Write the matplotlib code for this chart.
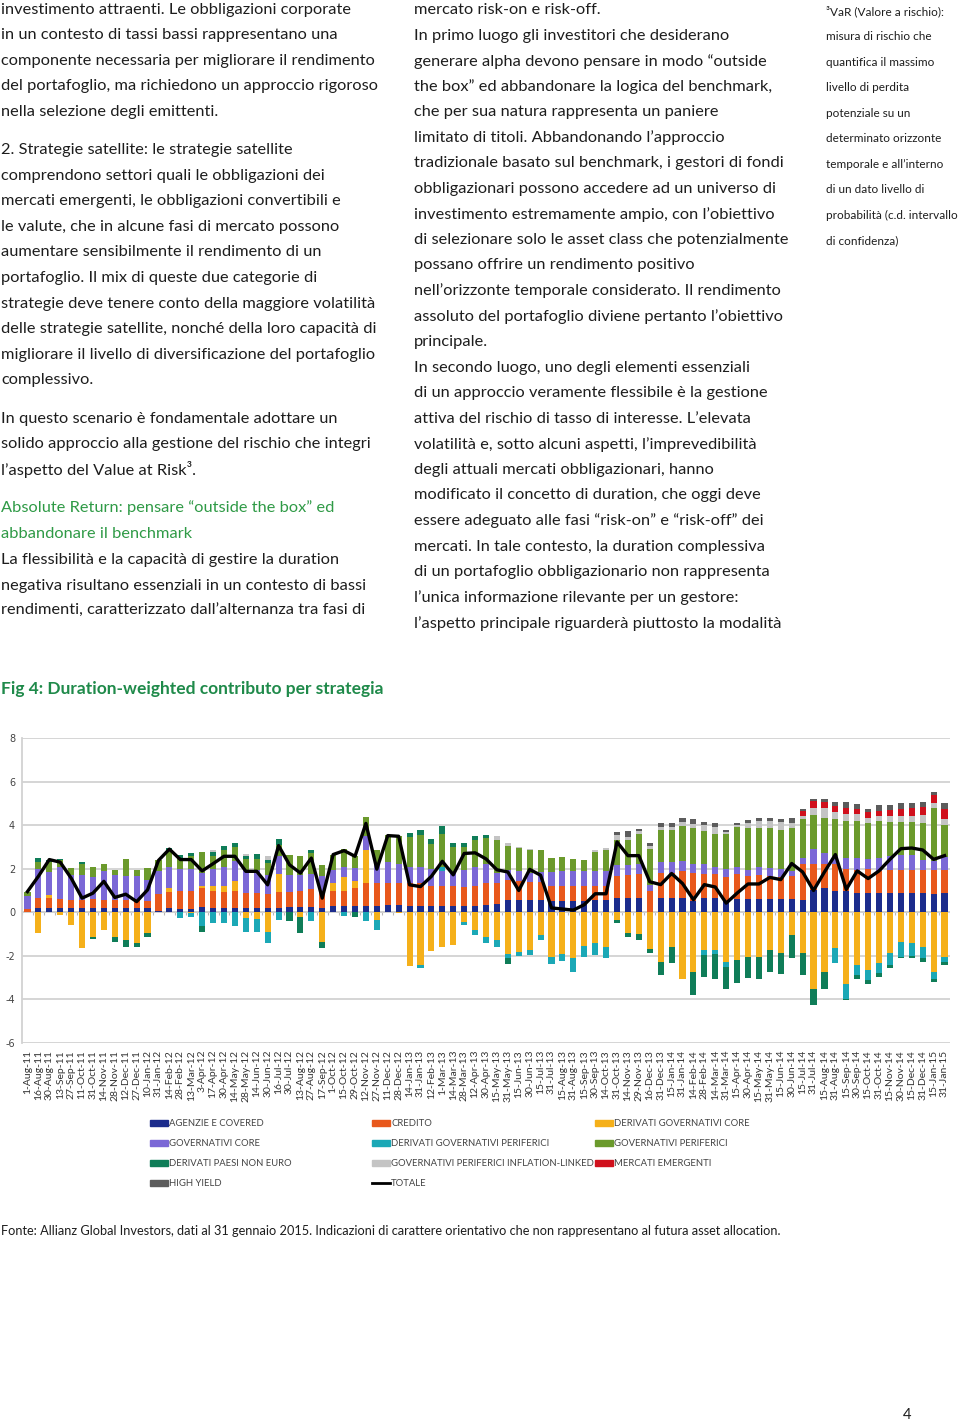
import numpy as np
import matplotlib.pyplot as plt
from matplotlib.patches import Rectangle

plt.rcParams['axes.unicode_minus'] = False

# date di rilevazione (asse x)
dates = ['1-Aug-11', '16-Aug-11', '30-Aug-11', '13-Sep-11', '27-Sep-11', '11-Oct-11', '31-Oct-11',
         '14-Nov-11', '28-Nov-11', '12-Dec-11', '27-Dec-11', '10-Jan-12', '31-Jan-12', '14-Feb-12',
         '28-Feb-12', '13-Mar-12', '3-Apr-12', '17-Apr-12', '30-Apr-12', '14-May-12', '28-May-12',
         '14-Jun-12', '30-Jun-12', '16-Jul-12', '30-Jul-12', '13-Aug-12', '27-Aug-12', '17-Sep-12',
         '1-Oct-12', '15-Oct-12', '29-Oct-12', '12-Nov-12', '27-Nov-12', '11-Dec-12', '28-Dec-12',
         '14-Jan-13', '31-Jan-13', '12-Feb-13', '1-Mar-13', '14-Mar-13', '28-Mar-13', '12-Apr-13',
         '30-Apr-13', '15-May-13', '31-May-13', '15-Jun-13', '30-Jun-13', '15-Jul-13', '31-Jul-13',
         '15-Aug-13', '31-Aug-13', '15-Sep-13', '30-Sep-13', '14-Oct-13', '31-Oct-13', '14-Nov-13',
         '29-Nov-13', '16-Dec-13', '31-Dec-13', '15-Jan-14', '31-Jan-14', '14-Feb-14', '28-Feb-14',
         '14-Mar-14', '31-Mar-14', '15-Apr-14', '30-Apr-14', '15-May-14', '31-May-14', '15-Jun-14',
         '30-Jun-14', '15-Jul-14', '31-Jul-14', '15-Aug-14', '31-Aug-14', '15-Sep-14', '30-Sep-14',
         '15-Oct-14', '31-Oct-14', '15-Nov-14', '30-Nov-14', '15-Dec-14', '31-Dec-14', '15-Jan-15',
         '31-Jan-15']

agenzie = [0, .2, .2, .2, .2, .2, .2, .2, .2, .2, .2, .2, .05, .2, .15, .15, .25, .2, .2, .2, .2,
           .2, .2, .2, .25, .25, .25, .2, .27, .27, .27, .3, .3, .35, .35, .3, .3, .3, .3, .3, .3, .3,
           .35, .4, .57, .57, .55, .55, .5, .5, .5, .5, .55, .55, .65, .65, .65, 0, .65, .65, .65, .5,
           .65, .65, .5, .6, .6, .6, .6, .6, .6, .58, 1.04, 1.12, 1.0, 1.0, .9, .9, .9, .9, .9, .9,
           .9, .85, .9]
credito = [.15, .45, .45, .4, .35, .35, .4, .35, .35, .35, .35, .3, .8, .75, .85, .85, .85, .8, .75,
           .8, .7, .7, .65, .75, .7, .75, .8, .75, .73, .73, .83, 1.05, 1.05, 1.0, 1.0, 1.05, 1.05,
           .9, .9, .9, .85, .9, 1.0, .95, .93, .85, .85, .85, .7, .7, .7, .7, .65, .65, 1.0, 1.05,
           1.1, 1.0, 1.15, 1.15, 1.25, 1.3, 1.1, 1.1, 1.1, 1.15, 1.05, 1.1, 1.05, 1.0, 1.05, 1.62,
           1.16, 1.08, 1.2, 1.0, 1.05, 1.1, 1.0, 1.05, 1.05, 1.05, 1.05, 1.1, 1.05]
der_gov_core = [0, -.97, .15, -.12, -.58, -1.66, -1.12, -.82, -1.12, -1.28, -1.4, -.97, 0, .15, 0,
                -.05, .1, .2, .25, .45, -.28, -.3, -.89, .8, 0, -.2, 0, -1.35, .35, .6, .35, 1.53,
                -.35, 0, -.05, -2.48, -2.4, -1.78, -1.6, -1.5, -.43, -.82, -1.12, -1.28, -1.9,
                -1.82, -1.75, -1.05, -2.05, -1.9, -2.12, -1.55, -1.43, -1.58, -.35, -.97, -1.0,
                -1.7, -2.3, -1.58, -3.04, -2.73, -1.73, -1.73, -2.27, -2.19, -2.04, -2.04, -1.73,
                -1.88, -1.04, -1.88, -3.5, -2.73, -1.65, -3.27, -2.42, -2.65, -2.35, -1.88, -1.35,
                -1.4, -1.58, -2.73, -2.04]
gov_core = [.62, 1.35, 1.05, 1.5, 1.15, 1.15, 1.0, 1.35, 1.15, 1.1, 1.1, 1.0, 1.05, 1.0, 1.0, 1.0,
            .6, .8, .9, .9, 1.05, 1.05, .85, .85, .75, .7, .7, .7, .6, .5, .6, .6, .85, .95, .85,
            .75, .75, .8, .7, .6, .8, .9, .85, .45, .45, .46, .4, .45, .65, .7, .7, .7, .7, .7, .53,
            .45, .45, .25, .5, .5, .45, .4, .45, .35, .4, .35, .3, .4, .4, .4, .25, .3, .7, .53, .4,
            .5, .55, .45, .6, .65, .7, .7, .45, .4, .6]
der_gov_perif = [0, 0, 0, 0, 0, 0, 0, 0, 0, 0, 0, 0, 0, 0, -.28, -.18, -.65, -.5, -.5, -.63, -.61,
                 -.6, -.51, -.35, 0, 0, -.38, 0, 0, -.15, 0, -.38, -.45, 0, 0, 0, -.14, 0, .2, 0,
                 -.15, -.23, -.28, -.3, -.22, -.18, -.22, -.2, -.33, -.33, -.62, -.5, -.54, -.5, 0,
                 0, 0, 0, 0, 0, 0, 0, -.23, -.17, -.23, 0, 0, 0, 0, 0, 0, 0, 0, 0, -.7, -.69, -.46,
                 -.45, -.45, -.54, -.69, -.6, -.54, -.31, -.23]
gov_perif = [.15, .3, .45, .3, .35, .5, .5, .3, .25, .8, .3, .55, .5, .7, .45, .6, .95, .6, .75, .65,
             .5, .5, .55, .5, .95, .9, .95, .53, .7, .8, .55, .9, .65, 1.25, 1.3, 1.35, 1.45, 1.15,
             1.5, 1.2, 1.05, 1.2, 1.2, 1.54, 1.08, 1.07, 1.05, 1.0, .65, .65, .55, .5, .85, .95,
             1.16, 1.15, 1.4, 1.65, 1.5, 1.5, 1.6, 1.65, 1.55, 1.5, 1.6, 1.8, 1.9, 1.75, 1.8, 1.8,
             1.95, 1.77, 1.55, 1.62, 1.7, 1.7, 1.7, 1.65, 1.7, 1.55, 1.5, 1.5, 1.7, 2.45, 1.45]
der_non_euro = [0, .2, .1, .05, 0, .1, -.11, 0, -.23, -.3, -.18, -.15, 0, .17, .2, .12, -.24, .15,
                .18, .18, .15, .23, .15, .27, -.38, -.77, .15, -.31, 0, 0, -.2, 0, 0, 0, 0, .2, .22,
                .22, .38, .18, .2, .2, .17, 0, -.26, 0, 0, 0, 0, 0, 0, 0, 0, 0, -.15, -.18, -.25,
                -.15, -.58, -.77, 0, -1.07, -1.0, -1.14, -1.0, -1.05, -.96, -1.04, -1.0, -.97, -1.08,
                -1.0, -.77, -.77, 0, -.08, -.16, -.17, -.16, -.16, -.06, -.08, -.15, -.15, -.15]
gov_perif_il = [0, 0, 0, 0, 0, 0, 0, 0, 0, 0, 0, 0, 0, 0, 0, 0, 0, .1, 0, 0, .08, 0, .17, 0, 0, 0, 0,
                0, 0, 0, 0, 0, 0, 0, 0, 0, 0, 0, 0, 0, 0, 0, 0, .16, .15, .05, .05, 0, 0, 0, 0, 0,
                .1, .1, .2, .15, .15, .15, .1, .1, .2, .2, .25, .3, .1, .1, .25, .35, .35, .35, .25,
                .13, .35, .45, .3, .3, .3, .25, .2, .25, .25, .25, .35, .2, .3]
mercati_emergenti = [0] * 71 + [.25, .3, .28, .3, .3, .25, .25, .25, .3, .35, .4, .4, .4, .45]
high_yield = [0] * 54 + [.14, .27, .08, .15, .2, .18, .2, .25, .15, .2, .1, .08, .12, .15, .15, .12,
                         .25, .11, .12, .14, .14, .24, .21, .16, .27, .22, .25, .2, .22, .1, .25]
totale = [.95, 1.65, 2.42, 2.3, 1.57, .65, .88, 1.42, .68, .83, .49, 1.03, 2.38, 2.9, 2.42, 2.42,
          1.9, 2.23, 2.57, 2.57, 1.88, 1.88, 1.26, 3.06, 2.18, 1.8, 2.49, .65, 2.65, 2.83, 2.57,
          4.08, 1.98, 3.52, 3.49, 1.26, 1.18, 1.65, 2.34, 1.72, 2.7, 2.73, 2.45, 1.95, 1.85, 1.0,
          1.97, 1.7, .2, .15, .1, .35, .85, .85, 3.23, 2.6, 2.6, 1.4, 1.27, 1.78, 1.32, .58, 1.27,
          1.16, .42, .88, 1.3, 1.3, 1.6, 1.5, 2.24, 1.85, 1.0, 1.85, 2.65, 1.05, 1.9, 1.55, 1.9,
          2.43, 2.92, 2.95, 2.86, 2.43, 2.6]

series = [
    ('AGENZIE E COVERED', agenzie, '#1c2c8c'),
    ('CREDITO', credito, '#e8581c'),
    ('DERIVATI GOVERNATIVI CORE', der_gov_core, '#f5b01a'),
    ('GOVERNATIVI CORE', gov_core, '#7b68d6'),
    ('DERIVATI GOVERNATIVI PERIFERICI', der_gov_perif, '#1ba8b6'),
    ('GOVERNATIVI PERIFERICI', gov_perif, '#6b9a2c'),
    ('DERIVATI PAESI NON EURO', der_non_euro, '#0f7d58'),
    ('GOVERNATIVI PERIFERICI INFLATION-LINKED', gov_perif_il, '#c4c4c4'),
    ('MERCATI EMERGENTI', mercati_emergenti, '#d0101c'),
    ('HIGH YIELD', high_yield, '#5c5c5c'),
]

left_col = [
    (10, 'investimento attraenti. Le obbligazioni corporate'),
    (35, 'in un contesto di tassi bassi rappresentano una'),
    (61, 'componente necessaria per migliorare il rendimento'),
    (86, 'del portafoglio, ma richiedono un approccio rigoroso'),
    (112, 'nella selezione degli emittenti.'),
    (150, '2. Strategie satellite: le strategie satellite'),
    (176, 'comprendono settori quali le obbligazioni dei'),
    (201, 'mercati emergenti, le obbligazioni convertibili e'),
    (227, 'le valute, che in alcune fasi di mercato possono'),
    (252, 'aumentare sensibilmente il rendimento di un'),
    (278, 'portafoglio. Il mix di queste due categorie di'),
    (304, 'strategie deve tenere conto della maggiore volatilità'),
    (329, 'delle strategie satellite, nonché della loro capacità di'),
    (355, 'migliorare il livello di diversificazione del portafoglio'),
    (380, 'complessivo.'),
    (419, 'In questo scenario è fondamentale adottare un'),
    (444, 'solido approccio alla gestione del rischio che integri'),
    (470, 'l’aspetto del Value at Risk³.'),
    (560, 'La flessibilità e la capacità di gestire la duration'),
    (586, 'negativa risultano essenziali in un contesto di bassi'),
    (611, 'rendimenti, caratterizzato dall’alternanza tra fasi di'),
]
heading = ['Absolute Return: pensare “outside the box” ed', 'abbandonare il benchmark']
right_col = [
    'mercato risk-on e risk-off.',
    'In primo luogo gli investitori che desiderano',
    'generare alpha devono pensare in modo “outside',
    'the box” ed abbandonare la logica del benchmark,',
    'che per sua natura rappresenta un paniere',
    'limitato di titoli. Abbandonando l’approccio',
    'tradizionale basato sul benchmark, i gestori di fondi',
    'obbligazionari possono accedere ad un universo di',
    'investimento estremamente ampio, con l’obiettivo',
    'di selezionare solo le asset class che potenzialmente',
    'possano offrire un rendimento positivo',
    'nell’orizzonte temporale considerato. Il rendimento',
    'assoluto del portafoglio diviene pertanto l’obiettivo',
    'principale.',
    'In secondo luogo, uno degli elementi essenziali',
    'di un approccio veramente flessibile è la gestione',
    'attiva del rischio di tasso di interesse. L’elevata',
    'volatilità e, sotto alcuni aspetti, l’imprevedibilità',
    'degli attuali mercati obbligazionari, hanno',
    'modificato il concetto di duration, che oggi deve',
    'essere adeguato alle fasi “risk-on” e “risk-off” dei',
    'mercati. In tale contesto, la duration complessiva',
    'di un portafoglio obbligazionario non rappresenta',
    'l’unica informazione rilevante per un gestore:',
    'l’aspetto principale riguarderà piuttosto la modalità',
]
note = ['³VaR (Valore a rischio):', 'misura di rischio che', 'quantifica il massimo',
        'livello di perdita', 'potenziale su un', 'determinato orizzonte',
        'temporale e all’interno', 'di un dato livello di',
        'probabilità (c.d. intervallo', 'di confidenza)']
fonte = ('Fonte: Allianz Global Investors, dati al 31 gennaio 2015. Indicazioni di carattere '
         'orientativo che non rappresentano al futura asset allocation.')

W, H = 960, 1423
FONT = ['Lato', 'DejaVu Sans']
fig = plt.figure(figsize=(W / 100, H / 100), dpi=100)
renderer = fig.canvas.get_renderer()


def fit(s, width_px, weight='normal'):
    # dimensione del font per cui la riga occupa width_px pixel
    t = fig.text(0, 0, s, fontsize=10, family=FONT, fontweight=weight)
    w = t.get_window_extent(renderer).width
    t.remove()
    return 10 * width_px / w


def put(x, y, s, size, color='#1d1d1d', **kw):
    # posizione in pixel, origine in alto a sinistra
    fig.text(x / W, 1 - y / H, s, fontsize=size, color=color, family=FONT,
             va='center', ha='left', **kw)


body = fit('componente necessaria per migliorare il rendimento', 374)
for y, s in left_col:
    put(1, y, s, body)
put(1, 508, heading[0], body, color='#2f9a46')
put(1, 534, heading[1], body, color='#2f9a46')
for i, s in enumerate(right_col):
    put(414, 10 + i * 25.55, s, body)

small = fit('probabilità (c.d. intervallo', 131)
for i, s in enumerate(note):
    put(826, 11 + i * 25.55, s, small)

put(1, 689, 'Fig 4: Duration-weighted contributo per strategia',
    fit('Fig 4: Duration-weighted contributo per strategia', 381, 'bold'),
    color='#1f8a4a', fontweight='bold')

# ---- grafico ----
n = len(dates)
x = np.arange(n)
ax = fig.add_axes([22 / W, 1 - 1043 / H, 928 / W, 305 / H])
pos_base = np.zeros(n)
neg_base = np.zeros(n)
for name, vals, col in series:
    v = np.array(vals, dtype=float)
    p = np.where(v > 0, v, 0)
    q = np.where(v < 0, v, 0)
    ax.bar(x, p, 0.56, bottom=pos_base, color=col, linewidth=0, zorder=2)
    ax.bar(x, q, 0.56, bottom=neg_base, color=col, linewidth=0, zorder=2)
    pos_base += p
    neg_base += q
ax.plot(x, totale, color='black', lw=2.4, zorder=3)

ax.set_xlim(-0.5, n - 0.5)
ax.set_ylim(-6, 8)
ax.set_yticks(range(-6, 9, 2))
ax.grid(axis='y', color='#d2d2d2', lw=1.3, zorder=0)
ax.axhline(0, color='#b8b8b8', lw=1.3, zorder=1)
ax.vlines(np.arange(n + 1) - 0.5, -0.12, 0, color='#b8b8b8', lw=0.8, zorder=1)
for s in ['top', 'right', 'bottom']:
    ax.spines[s].set_visible(False)
ax.spines['left'].set_color('#d2d2d2')
ax.spines['left'].set_linewidth(1.3)
ax.tick_params(axis='y', length=0, labelsize=7, labelcolor='#444444', pad=5)
ax.set_xticks(x)
ax.set_xticklabels(dates, rotation=90, fontsize=7.5, color='#333333', family=FONT)
ax.tick_params(axis='x', length=0, pad=5)

# ---- legenda (disposta come nell'originale) ----
legend_pos = [(150, 1123), (372, 1123), (595, 1123),
              (150, 1143), (372, 1143), (595, 1143),
              (150, 1163), (372, 1163), (595, 1163),
              (150, 1183)]
leg_size = fit('GOVERNATIVI PERIFERICI INFLATION-LINKED', 200)
for (name, vals, col), (lx, ly) in zip(series, legend_pos):
    fig.patches.append(Rectangle((lx / W, 1 - (ly + 3) / H), 18 / W, 6 / H,
                                 color=col, transform=fig.transFigure))
    put(lx + 19, ly, name, leg_size, color='#444444')
fig.lines.append(plt.Line2D([372 / W, 390 / W], [1 - 1183 / H] * 2, color='black', lw=2,
                            transform=fig.transFigure))
put(391, 1183, 'TOTALE', leg_size, color='#444444')

put(1, 1231, fonte, fit(fonte, 782))
put(903, 1415, '4', body * 0.9)

fig.savefig('out.png', dpi=100)
